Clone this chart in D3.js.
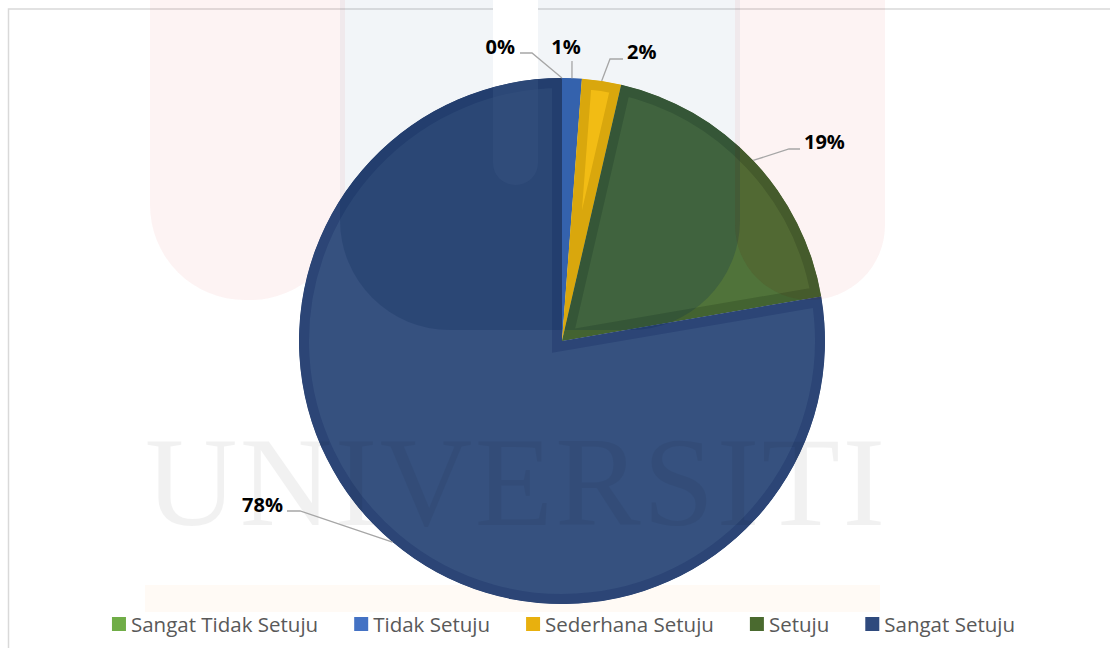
<!DOCTYPE html>
<html>
<head>
<meta charset="utf-8">
<script src="https://cdn.jsdelivr.net/npm/d3@7"></script>
<style>
  html, body { margin: 0; padding: 0; background: #fff; }
  svg { display: block; }
</style>
</head>
<body>
<div id="app"></div>
<script>
const categories = ["Sangat Tidak Setuju", "Tidak Setuju", "Sederhana Setuju", "Setuju", "Sangat Setuju"];
const counts = [0, 2, 4, 31, 129];
const fills = ["#70ad47", "#3a67b0", "#f2bc14", "#50733a", "#36517f"];
const edges = ["#64a03d", "#3462ad", "#d9a70d", "#436331", "#2c4576"];
const legendColors = ["#70ad47", "#4472c4", "#e8b00e", "#4a6a2f", "#2f4a7d"];

let width = 1110,
  height = 648;

let cx = 562,
  cy = 341,
  R = 263,
  border = 10;

// label leader routes: elbow and tail, text spot
const labelLayout = [
  { elbow: [532, 53], tail: [520, 53], tx: 515, ty: 54, anchor: "end" },
  { elbow: [572, 61], tail: [572, 61], tx: 566, ty: 54, anchor: "middle" },
  { elbow: [610, 59], tail: [623, 59], tx: 627, ty: 59, anchor: "start" },
  { elbow: [789, 149], tail: [800, 149], tx: 804, ty: 149, anchor: "start" },
  { elbow: [300, 511], tail: [287, 511], tx: 283, ty: 512, anchor: "end" }
];

const svg = d3.select("#app")
  .append("svg")
  .attr("width", width)
  .attr("height", height);

svg.append("rect")
  .attr("width", width)
  .attr("height", height)
  .attr("fill", "#fff");

// frame
svg.append("path")
  .attr("d", `M${width + 5},9 H8.5 V${height + 5}`)
  .attr("fill", "none")
  .attr("stroke", "#d9d9d9")
  .attr("stroke-width", 1.5);

// faint watermark behind the chart
const wm = svg.append("g");
const archPath = (x0, x1, yBottom, r) =>
  `M${x0},0 V${yBottom - r} A${r},${r} 0 0 0 ${x0 + r},${yBottom} H${x1 - r} A${r},${r} 0 0 0 ${x1},${yBottom - r} V0 Z`;

wm.append("path").attr("d", archPath(150, 345, 300, 95)).attr("fill", "#e31e24").attr("opacity", 0.055);
wm.append("path").attr("d", archPath(735, 885, 300, 75)).attr("fill", "#e31e24").attr("opacity", 0.055);
wm.append("path").attr("d", archPath(340, 740, 330, 110)).attr("fill", "#1f4e8c").attr("opacity", 0.06);
wm.append("path").attr("d", archPath(493, 538, 185, 22)).attr("fill", "#fff");
wm.append("rect").attr("x", 145).attr("y", 585).attr("width", 735).attr("height", 27)
  .attr("fill", "#ff9a3c").attr("opacity", 0.05);

const total = d3.sum(counts);
const pct = d3.format(".0%");

const pie = d3.pie().sort(null).value(d => d)(counts);
const arc = d3.arc().innerRadius(0).outerRadius(R);

const defs = svg.append("defs");

pie.forEach((d, i) => {
  if (d.value === 0) return;
  defs.append("clipPath").attr("id", "slice" + i)
    .append("path").attr("d", arc(d));
});

// watermark only darkens the two big slices
const bigClip = defs.append("clipPath").attr("id", "bigClip");
pie.filter(d => d.index >= 3).forEach(d => {
  bigClip.append("path")
    .attr("transform", `translate(${cx},${cy})`)
    .attr("d", arc(d));
});

const g = svg.append("g").attr("transform", `translate(${cx},${cy})`);

g.selectAll("path.slice")
  .data(pie.filter(d => d.value > 0))
  .join("path")
  .attr("class", "slice")
  .attr("d", arc)
  .attr("fill", d => fills[d.index])
  .attr("stroke", d => edges[d.index])
  .attr("stroke-width", border * 2)
  .attr("stroke-linejoin", "miter")
  .attr("clip-path", d => `url(#slice${d.index})`);

const over = svg.append("g").attr("clip-path", "url(#bigClip)");
over.append("path").attr("d", archPath(340, 740, 330, 110)).attr("fill", "#00234f").attr("opacity", 0.2);
over.append("path").attr("d", archPath(493, 538, 185, 22)).attr("fill", "#36517f").attr("opacity", 0.5);
over.append("path").attr("d", archPath(735, 885, 300, 75)).attr("fill", "#5a1e0a").attr("opacity", 0.12);

svg.append("text")
  .attr("x", 145)
  .attr("y", 525)
  .attr("textLength", 740)
  .attr("lengthAdjust", "spacing")
  .style("font-family", "'Liberation Serif', 'DejaVu Serif', serif")
  .style("font-size", "128px")
  .attr("fill", "#000")
  .attr("opacity", 0.05)
  .text("UNIVERSITI");

// leader lines and labels
const labels = svg.append("g");
pie.forEach((d, i) => {
  const mid = (d.startAngle + d.endAngle) / 2;
  const ax = cx + R * Math.sin(mid),
    ay = cy - R * Math.cos(mid);
  const L = labelLayout[i];
  labels.append("polyline")
    .attr("points", [[ax, ay], L.elbow, L.tail].map(p => p.join(",")).join(" "))
    .attr("fill", "none")
    .attr("stroke", "#a6a6a6")
    .attr("stroke-width", 1.3);
  labels.append("text")
    .attr("x", L.tx)
    .attr("y", L.ty)
    .attr("text-anchor", L.anchor)
    .style("font-family", "'Open Sans', sans-serif")
    .style("font-weight", 700)
    .style("font-size", "20px")
    .attr("fill", "#000")
    .text(pct(d.value / total));
});

// legend
const legend = svg.append("g");
let items = legend.selectAll("g")
  .data(categories)
  .join("g");

items.append("rect")
  .attr("width", 14)
  .attr("height", 14)
  .attr("y", -7)
  .attr("fill", (d, i) => legendColors[i]);

items.append("text")
  .attr("x", 19)
  .attr("y", 7.5)
  .style("font-family", "'Open Sans', sans-serif")
  .style("font-size", "20.5px")
  .attr("fill", "#595959")
  .text(d => d);

let x = 0;
const gap = 36;
items.each(function () {
  const w = 19 + d3.select(this).select("text").node().getComputedTextLength();
  d3.select(this).attr("transform", `translate(${x},0)`);
  x += w + gap;
});
const legendWidth = x - gap;
legend.attr("transform", `translate(${563.5 - legendWidth / 2},624)`);
</script>
</body>
</html>
